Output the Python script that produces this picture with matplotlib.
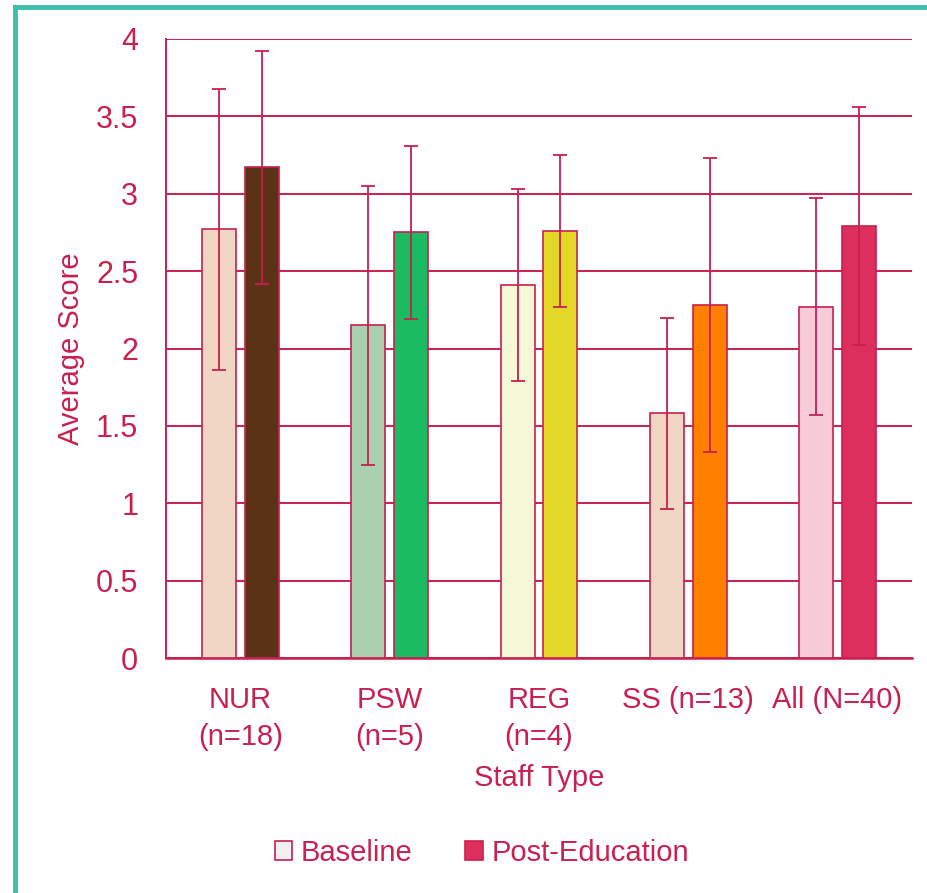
import numpy as np
import matplotlib.pyplot as plt
from matplotlib.lines import Line2D
from matplotlib.patches import Patch

categories = ['NUR\n(n=18)', 'PSW\n(n=5)', 'REG\n(n=4)', 'SS (n=13)', 'All (N=40)']
baseline = [2.77, 2.15, 2.41, 1.58, 2.27]
baseline_err = [0.91, 0.90, 0.62, 0.62, 0.70]
post = [3.17, 2.75, 2.76, 2.28, 2.79]
post_err = [0.75, 0.56, 0.49, 0.95, 0.77]

baseline_colors = ['#F1D6C4', '#A9D0AE', '#F5F7D7', '#F1D6C4', '#F7CCD8']
post_colors = ['#5B3216', '#1BBB62', '#E2D627', '#FF7F00', '#DD2F5D']

red = '#C8204F'
teal = '#3CBFAA'

plt.rcParams['font.family'] = ['Liberation Sans', 'DejaVu Sans']

fig = plt.figure(figsize=(9.27, 8.93), dpi=100)
ax = fig.add_axes([166 / 927, 1 - 658 / 893, 746 / 927, 619 / 893])

x = np.arange(len(categories))
width = 0.228
off = 0.144

ax.bar(x - off, baseline, width=width, color=baseline_colors, edgecolor=red, linewidth=1.2, zorder=3)
ax.bar(x + off, post, width=width, color=post_colors, edgecolor=red, linewidth=1.2, zorder=3)
ax.errorbar(x - off, baseline, yerr=baseline_err, fmt='none', ecolor=red, elinewidth=1.3,
            capsize=5, capthick=1.3, zorder=4)
ax.errorbar(x + off, post, yerr=post_err, fmt='none', ecolor=red, elinewidth=1.3,
            capsize=5, capthick=1.3, zorder=4)

ax.set_xlim(-0.5, len(categories) - 0.5)
ax.set_ylim(0, 4)
ax.set_yticks(np.arange(0, 4.01, 0.5))
ax.set_yticklabels(['0', '0.5', '1', '1.5', '2', '2.5', '3', '3.5', '4'])
ax.grid(axis='y', color=red, linewidth=1.4, zorder=0)
ax.set_axisbelow(True)
for s in ['top', 'right']:
    ax.spines[s].set_visible(False)
ax.spines['left'].set_color(red)
ax.spines['left'].set_linewidth(1.4)
ax.spines['bottom'].set_color(red)
ax.spines['bottom'].set_linewidth(1.8)
ax.tick_params(axis='both', length=0, colors=red)
ax.tick_params(axis='y', labelsize=22, pad=20)

ax.set_xticks(x)
ax.set_xticklabels(categories, fontsize=21, color=red, linespacing=1.4)
ax.tick_params(axis='x', pad=20)

ax.set_ylabel('Average Score', fontsize=21, color=red, labelpad=8)
ax.set_xlabel('Staff Type', fontsize=21, color=red, labelpad=10)

handles = [Patch(facecolor='#F0F0F0', edgecolor=red, linewidth=1.2),
           Patch(facecolor='#DD2F5D', edgecolor=red, linewidth=1.2)]
fig.legend(handles, ['Baseline', 'Post-Education'], loc='center',
           bbox_to_anchor=(482 / 927, 1 - 853 / 893), ncol=2, frameon=False,
           fontsize=21, labelcolor=red, handlelength=0.6, handleheight=0.6,
           handletextpad=0.3, columnspacing=1.8)

# teal border on the left and top
fig.add_artist(Line2D([15 / 927, 15 / 927], [0, 1 - 7 / 893], color=teal, linewidth=3.5,
                      transform=fig.transFigure))
fig.add_artist(Line2D([15 / 927, 1], [1 - 7 / 893, 1 - 7 / 893], color=teal, linewidth=3.5,
                      transform=fig.transFigure))

fig.savefig('out.png', dpi=100)
